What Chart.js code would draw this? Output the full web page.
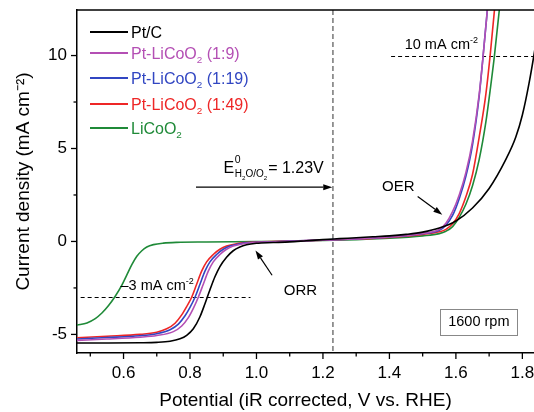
<!DOCTYPE html>
<html>
<head>
<meta charset="utf-8">
<script src="https://cdn.jsdelivr.net/npm/chart.js@4.4.1/dist/chart.umd.min.js"></script>
<style>
  html, body { margin: 0; padding: 0; background: #fff; }
  canvas { display: block; }
</style>
</head>
<body>
<canvas id="lsv" width="534" height="412"></canvas>
<script>
// LSV curves, [potential V vs RHE, current density mA cm-2]
const ptC = [[0.46,-5.46],[0.55,-5.46],[0.65,-5.45],[0.70,-5.43],[0.74,-5.37],[0.77,-5.24],[0.79,-5.05],[0.81,-4.7],[0.83,-4.05],[0.845,-3.35],[0.86,-2.6],[0.875,-1.9],[0.89,-1.35],[0.91,-0.85],[0.93,-0.5],[0.95,-0.3],[0.97,-0.18],[1.0,-0.1],[1.05,-0.06],[1.1,-0.02],[1.15,0.04],[1.2,0.1],[1.25,0.15],[1.3,0.2],[1.35,0.25],[1.4,0.3],[1.45,0.38],[1.5,0.5],[1.55,0.72],[1.6,1.1],[1.65,1.8],[1.7,2.85],[1.75,4.4],[1.78,5.6],[1.8,6.8],[1.82,8.5],[1.84,10.6],[1.86,13]];
const ptLco9 = [[0.46,-5.32],[0.55,-5.25],[0.65,-5.15],[0.70,-5.06],[0.75,-4.85],[0.775,-4.55],[0.795,-4.1],[0.81,-3.6],[0.825,-3.0],[0.84,-2.3],[0.855,-1.6],[0.87,-1.1],[0.89,-0.7],[0.91,-0.42],[0.93,-0.25],[0.96,-0.12],[0.99,-0.06],[1.02,-0.04],[1.1,0.01],[1.2,0.07],[1.3,0.14],[1.4,0.24],[1.5,0.43],[1.55,0.65],[1.57,0.98],[1.59,1.6],[1.61,2.5],[1.63,3.7],[1.65,5.4],[1.67,7.9],[1.682,10],[1.70,13.5]];
const ptLco19 = [[0.46,-5.25],[0.55,-5.17],[0.65,-5.07],[0.70,-4.96],[0.74,-4.75],[0.765,-4.45],[0.785,-4.0],[0.80,-3.55],[0.815,-3.0],[0.83,-2.3],[0.845,-1.6],[0.86,-1.1],[0.88,-0.7],[0.90,-0.42],[0.92,-0.25],[0.95,-0.12],[0.98,-0.06],[1.0,-0.04],[1.1,0.02],[1.2,0.08],[1.3,0.14],[1.4,0.24],[1.5,0.42],[1.55,0.6],[1.57,0.88],[1.59,1.4],[1.61,2.3],[1.63,3.5],[1.65,5.2],[1.67,7.8],[1.682,10],[1.70,13.5]];
const ptLco49 = [[0.46,-5.18],[0.55,-5.1],[0.65,-5.0],[0.70,-4.88],[0.73,-4.7],[0.755,-4.4],[0.775,-3.95],[0.79,-3.5],[0.805,-3.0],[0.82,-2.3],[0.835,-1.6],[0.85,-1.1],[0.87,-0.7],[0.89,-0.42],[0.91,-0.25],[0.94,-0.12],[0.97,-0.06],[1.0,-0.03],[1.1,0.02],[1.2,0.07],[1.3,0.13],[1.4,0.22],[1.5,0.38],[1.55,0.52],[1.57,0.65],[1.59,0.95],[1.61,1.5],[1.63,2.4],[1.65,3.6],[1.67,5.6],[1.69,7.9],[1.703,10],[1.72,13.2]];
const lco = [[0.46,-4.5],[0.49,-4.38],[0.515,-4.15],[0.535,-3.85],[0.555,-3.45],[0.575,-2.95],[0.595,-2.35],[0.61,-1.8],[0.625,-1.25],[0.64,-0.8],[0.655,-0.5],[0.67,-0.3],[0.69,-0.17],[0.72,-0.09],[0.76,-0.05],[0.85,-0.03],[1.0,-0.01],[1.1,0.01],[1.2,0.05],[1.3,0.1],[1.4,0.17],[1.5,0.3],[1.55,0.42],[1.57,0.55],[1.59,0.8],[1.61,1.3],[1.63,2.0],[1.65,3.0],[1.67,4.4],[1.69,6.4],[1.705,8.4],[1.716,10],[1.735,13.2]];

const seriesLabels = ['Pt/C', 'Pt-LiCoO_{2} (1:9)', 'Pt-LiCoO_{2} (1:19)', 'Pt-LiCoO_{2} (1:49)', 'LiCoO_{2}'];
const seriesColors = ['#000000', '#b44fb4', '#3146c2', '#ee2626', '#1f8a38'];
const seriesData = [ptC, ptLco9, ptLco19, ptLco49, lco];

const xTickValues = [0.6, 0.8, 1.0, 1.2, 1.4, 1.6, 1.8];
const xTickLabels = ['0.6', '0.8', '1.0', '1.2', '1.4', '1.6', '1.8'];
const xMinorTicks = [0.5, 0.7, 0.9, 1.1, 1.3, 1.5, 1.7];
const yTickValues = [-5, 0, 5, 10];
const yTickLabels = ['-5', '0', '5', '10'];
const yMinorTicks = [-2.5, 2.5, 7.5];

const FONT = 'Arial, "Liberation Sans", sans-serif';

function richParts(str) {
  const out = [];
  const re = /([_^])\{([^}]*)\}/g;
  let last = 0, m;
  while ((m = re.exec(str))) {
    if (m.index > last) out.push({ t: str.slice(last, m.index), k: '' });
    out.push({ t: m[2], k: m[1] });
    last = re.lastIndex;
  }
  if (last < str.length) out.push({ t: str.slice(last), k: '' });
  return out;
}

// left aligned, y is the baseline; returns the x where the text ends
function drawRich(ctx, str, x, y, size, color) {
  ctx.fillStyle = color;
  ctx.textAlign = 'left';
  ctx.textBaseline = 'alphabetic';
  for (const p of richParts(str)) {
    let s = size, dy = 0;
    if (p.k === '_') { s = size * 0.62; dy = size * 0.3; }
    if (p.k === '^') { s = size * 0.62; dy = -size * 0.45; }
    ctx.font = s + 'px ' + FONT;
    ctx.fillText(p.t, x, y + dy);
    x += ctx.measureText(p.t).width;
  }
  return x;
}

function arrow(ctx, x1, y1, x2, y2) {
  const ang = Math.atan2(y2 - y1, x2 - x1);
  const L = 9, W = 3;
  ctx.beginPath();
  ctx.moveTo(x1, y1);
  ctx.lineTo(x2 - L * Math.cos(ang), y2 - L * Math.sin(ang));
  ctx.stroke();
  ctx.beginPath();
  ctx.moveTo(x2, y2);
  ctx.lineTo(x2 - L * Math.cos(ang) + W * Math.sin(ang), y2 - L * Math.sin(ang) - W * Math.cos(ang));
  ctx.lineTo(x2 - L * Math.cos(ang) - W * Math.sin(ang), y2 - L * Math.sin(ang) + W * Math.cos(ang));
  ctx.closePath();
  ctx.fill();
}

// dashed guide lines, under the curves
const guides = {
  id: 'guides',
  beforeDatasetsDraw(chart) {
    const { ctx, chartArea: a, scales: { x, y } } = chart;
    ctx.save();
    ctx.strokeStyle = '#777';
    ctx.lineWidth = 1.5;
    ctx.setLineDash([5, 3]);
    const xe = x.getPixelForValue(1.23);
    ctx.beginPath(); ctx.moveTo(xe, a.top); ctx.lineTo(xe, a.bottom); ctx.stroke();
    ctx.strokeStyle = '#000';
    ctx.lineWidth = 1;
    ctx.setLineDash([4, 3]);
    const y10 = Math.round(y.getPixelForValue(10)) + 0.5;
    ctx.beginPath(); ctx.moveTo(x.getPixelForValue(1.405), y10); ctx.lineTo(a.right, y10); ctx.stroke();
    const y3 = Math.round(y.getPixelForValue(-3)) + 0.5;
    ctx.beginPath(); ctx.moveTo(x.getPixelForValue(0.471), y3); ctx.lineTo(x.getPixelForValue(0.982), y3); ctx.stroke();
    ctx.restore();
  }
};

// frame, tick marks, labels, legend
const decor = {
  id: 'decor',
  afterDraw(chart) {
    const { ctx, chartArea: a, scales: { x, y } } = chart;
    ctx.save();
    ctx.strokeStyle = '#000';
    ctx.fillStyle = '#000';
    ctx.lineWidth = 1.5;
    ctx.beginPath(); ctx.moveTo(a.left, a.top); ctx.lineTo(a.right, a.top); ctx.stroke();

    ctx.lineWidth = 1.3;
    const mark = (px, py, dx, dy) => { ctx.beginPath(); ctx.moveTo(px, py); ctx.lineTo(px + dx, py + dy); ctx.stroke(); };
    xTickValues.forEach(v => mark(x.getPixelForValue(v), a.bottom, 0, 6));
    xMinorTicks.forEach(v => mark(x.getPixelForValue(v), a.bottom, 0, 3.5));
    yTickValues.forEach(v => mark(a.left, y.getPixelForValue(v), -6, 0));
    yMinorTicks.forEach(v => mark(a.left, y.getPixelForValue(v), -3.5, 0));

    // text labels
    drawRich(ctx, '10 mA cm^{-2}', x.getPixelForValue(1.446), y.getPixelForValue(10.34), 14.5, '#000');
    drawRich(ctx, '\u20133 mA cm^{-2}', x.getPixelForValue(0.591), y.getPixelForValue(-2.63), 14.5, '#000');
    drawRich(ctx, 'OER', x.getPixelForValue(1.378), y.getPixelForValue(2.74), 15, '#000');
    drawRich(ctx, 'ORR', x.getPixelForValue(1.082), y.getPixelForValue(-2.87), 15, '#000');

    // E0 label
    const ex = x.getPixelForValue(0.901), ey = y.getPixelForValue(3.68);
    let xe = drawRich(ctx, 'E', ex, ey, 16, '#000');
    drawRich(ctx, '0', xe + 0.5, ey - 10.5, 10.5, '#000');
    xe = drawRich(ctx, 'H_{2}O/O_{2}', xe + 0.5, ey + 3.5, 10, '#000');
    drawRich(ctx, '= 1.23V', xe + 1, ey, 16, '#000');

    ctx.lineWidth = 1.2;
    const ay = y.getPixelForValue(2.92);
    arrow(ctx, x.getPixelForValue(0.818), ay, x.getPixelForValue(1.228), ay);
    arrow(ctx, x.getPixelForValue(1.485), y.getPixelForValue(2.42), x.getPixelForValue(1.559), y.getPixelForValue(1.44));
    arrow(ctx, x.getPixelForValue(1.047), y.getPixelForValue(-1.82), x.getPixelForValue(0.997), y.getPixelForValue(-0.48));

    // rpm box
    const bx1 = x.getPixelForValue(1.553), bx2 = x.getPixelForValue(1.785);
    const by1 = y.getPixelForValue(-3.62), by2 = y.getPixelForValue(-5.02);
    ctx.strokeStyle = '#888';
    ctx.lineWidth = 1;
    ctx.strokeRect(Math.round(bx1) + 0.5, Math.round(by1) + 0.5, Math.round(bx2 - bx1), Math.round(by2 - by1));
    ctx.fillStyle = '#000';
    ctx.font = '14.5px ' + FONT;
    ctx.textAlign = 'center';
    ctx.textBaseline = 'middle';
    ctx.fillText('1600 rpm', (bx1 + bx2) / 2, (by1 + by2) / 2 + 0.5);

    // legend
    const rows = [22, 43, 68, 94, 118];
    seriesLabels.forEach((lab, i) => {
      const ly = a.top + rows[i];
      ctx.strokeStyle = seriesColors[i];
      ctx.lineWidth = 1.8;
      ctx.beginPath(); ctx.moveTo(a.left + 13, ly); ctx.lineTo(a.left + 51, ly); ctx.stroke();
      drawRich(ctx, lab, a.left + 54, ly + 5.5, 16, seriesColors[i]);
    });
    ctx.restore();
  }
};

new Chart(document.getElementById('lsv'), {
  type: 'line',
  data: {
    datasets: seriesData.map((d, i) => ({
      label: seriesLabels[i],
      data: d.map(([v, j]) => ({ x: v, y: j })),
      borderColor: seriesColors[i],
      borderWidth: 1.6,
      pointRadius: 0,
      fill: false,
      cubicInterpolationMode: 'monotone'
    }))
  },
  options: {
    responsive: false,
    animation: false,
    devicePixelRatio: 1,
    layout: { padding: { top: 10, right: 0, bottom: 0, left: 0 } },
    plugins: { legend: { display: false }, tooltip: { enabled: false } },
    scales: {
      x: {
        type: 'linear',
        min: 0.46,
        max: 1.835,
        afterBuildTicks: s => { s.ticks = xTickValues.map(v => ({ value: v })); },
        afterFit: s => { s.height = 59; s.paddingLeft = 0; s.paddingRight = 0; },
        grid: { display: true, drawOnChartArea: false, drawTicks: false },
        border: { display: true, color: '#000', width: 1.5 },
        ticks: {
          autoSkip: false, maxRotation: 0, padding: 10, color: '#000',
          font: { family: FONT, size: 17 },
          callback: v => { const i = xTickValues.findIndex(t => Math.abs(t - v) < 1e-6); return i >= 0 ? xTickLabels[i] : ''; }
        },
        title: {
          display: true, text: 'Potential (iR corrected, V vs. RHE)', color: '#000',
          font: { family: FONT, size: 19 }, padding: { top: 0, bottom: 0 }
        }
      },
      y: {
        min: -6,
        max: 12.45,
        afterBuildTicks: s => { s.ticks = yTickValues.map(v => ({ value: v })); },
        afterFit: s => { s.width = 77; s.paddingTop = 0; s.paddingBottom = 0; },
        grid: { display: true, drawOnChartArea: false, drawTicks: false },
        border: { display: true, color: '#000', width: 1.5 },
        ticks: {
          padding: 10, color: '#000',
          font: { family: FONT, size: 17 },
          callback: v => { const i = yTickValues.findIndex(t => Math.abs(t - v) < 1e-6); return i >= 0 ? yTickLabels[i] : ''; }
        },
        title: {
          display: true, text: 'Current density (mA cm\u207B\u00B2)', color: '#000',
          font: { family: FONT, size: 19 }, padding: { top: 12, bottom: 0 }
        }
      }
    }
  },
  plugins: [guides, decor]
});
</script>
</body>
</html>
